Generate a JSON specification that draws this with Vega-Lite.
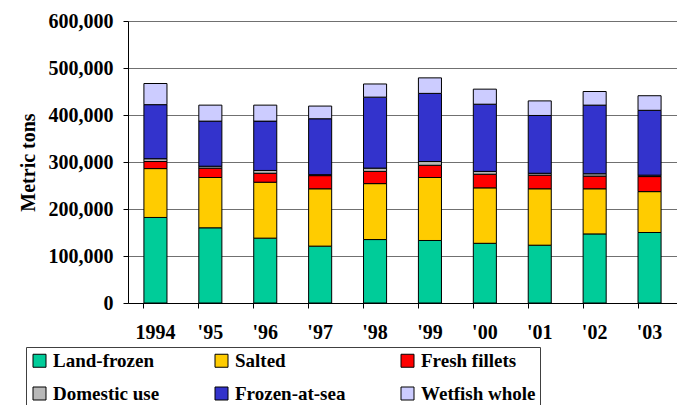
{
  "$schema": "https://vega.github.io/schema/vega-lite/v6.json",
  "width": 549,
  "height": 282,
  "autosize": {"type": "none"},
  "padding": {"left": 128, "top": 21, "right": 0, "bottom": 102},
  "background": "white",
  "data": {
    "values": [
      {"year": "1994", "cat": "Land-frozen", "k": 1, "v": 182000},
      {"year": "1994", "cat": "Salted", "k": 2, "v": 104000},
      {"year": "1994", "cat": "Fresh fillets", "k": 3, "v": 15000},
      {"year": "1994", "cat": "Domestic use", "k": 4, "v": 6000},
      {"year": "1994", "cat": "Frozen-at-sea", "k": 5, "v": 115000},
      {"year": "1994", "cat": "Wetfish whole", "k": 6, "v": 45000},
      {"year": "'95", "cat": "Land-frozen", "k": 1, "v": 160000},
      {"year": "'95", "cat": "Salted", "k": 2, "v": 107000},
      {"year": "'95", "cat": "Fresh fillets", "k": 3, "v": 20000},
      {"year": "'95", "cat": "Domestic use", "k": 4, "v": 4000},
      {"year": "'95", "cat": "Frozen-at-sea", "k": 5, "v": 96000},
      {"year": "'95", "cat": "Wetfish whole", "k": 6, "v": 34000},
      {"year": "'96", "cat": "Land-frozen", "k": 1, "v": 138000},
      {"year": "'96", "cat": "Salted", "k": 2, "v": 119000},
      {"year": "'96", "cat": "Fresh fillets", "k": 3, "v": 19000},
      {"year": "'96", "cat": "Domestic use", "k": 4, "v": 6000},
      {"year": "'96", "cat": "Frozen-at-sea", "k": 5, "v": 105000},
      {"year": "'96", "cat": "Wetfish whole", "k": 6, "v": 34000},
      {"year": "'97", "cat": "Land-frozen", "k": 1, "v": 121000},
      {"year": "'97", "cat": "Salted", "k": 2, "v": 122000},
      {"year": "'97", "cat": "Fresh fillets", "k": 3, "v": 28000},
      {"year": "'97", "cat": "Domestic use", "k": 4, "v": 2000},
      {"year": "'97", "cat": "Frozen-at-sea", "k": 5, "v": 119000},
      {"year": "'97", "cat": "Wetfish whole", "k": 6, "v": 27000},
      {"year": "'98", "cat": "Land-frozen", "k": 1, "v": 135000},
      {"year": "'98", "cat": "Salted", "k": 2, "v": 119000},
      {"year": "'98", "cat": "Fresh fillets", "k": 3, "v": 26000},
      {"year": "'98", "cat": "Domestic use", "k": 4, "v": 7000},
      {"year": "'98", "cat": "Frozen-at-sea", "k": 5, "v": 151000},
      {"year": "'98", "cat": "Wetfish whole", "k": 6, "v": 28000},
      {"year": "'99", "cat": "Land-frozen", "k": 1, "v": 133000},
      {"year": "'99", "cat": "Salted", "k": 2, "v": 134000},
      {"year": "'99", "cat": "Fresh fillets", "k": 3, "v": 26000},
      {"year": "'99", "cat": "Domestic use", "k": 4, "v": 8000},
      {"year": "'99", "cat": "Frozen-at-sea", "k": 5, "v": 145000},
      {"year": "'99", "cat": "Wetfish whole", "k": 6, "v": 33000},
      {"year": "'00", "cat": "Land-frozen", "k": 1, "v": 127000},
      {"year": "'00", "cat": "Salted", "k": 2, "v": 118000},
      {"year": "'00", "cat": "Fresh fillets", "k": 3, "v": 29000},
      {"year": "'00", "cat": "Domestic use", "k": 4, "v": 6000},
      {"year": "'00", "cat": "Frozen-at-sea", "k": 5, "v": 143000},
      {"year": "'00", "cat": "Wetfish whole", "k": 6, "v": 32000},
      {"year": "'01", "cat": "Land-frozen", "k": 1, "v": 123000},
      {"year": "'01", "cat": "Salted", "k": 2, "v": 120000},
      {"year": "'01", "cat": "Fresh fillets", "k": 3, "v": 29000},
      {"year": "'01", "cat": "Domestic use", "k": 4, "v": 4000},
      {"year": "'01", "cat": "Frozen-at-sea", "k": 5, "v": 123000},
      {"year": "'01", "cat": "Wetfish whole", "k": 6, "v": 31000},
      {"year": "'02", "cat": "Land-frozen", "k": 1, "v": 147000},
      {"year": "'02", "cat": "Salted", "k": 2, "v": 96000},
      {"year": "'02", "cat": "Fresh fillets", "k": 3, "v": 27000},
      {"year": "'02", "cat": "Domestic use", "k": 4, "v": 5000},
      {"year": "'02", "cat": "Frozen-at-sea", "k": 5, "v": 146000},
      {"year": "'02", "cat": "Wetfish whole", "k": 6, "v": 29000},
      {"year": "'03", "cat": "Land-frozen", "k": 1, "v": 150000},
      {"year": "'03", "cat": "Salted", "k": 2, "v": 87000},
      {"year": "'03", "cat": "Fresh fillets", "k": 3, "v": 32000},
      {"year": "'03", "cat": "Domestic use", "k": 4, "v": 3000},
      {"year": "'03", "cat": "Frozen-at-sea", "k": 5, "v": 138000},
      {"year": "'03", "cat": "Wetfish whole", "k": 6, "v": 31000}
    ]
  },
  "mark": {"type": "bar", "stroke": "black", "strokeWidth": 1},
  "encoding": {
    "x": {
      "field": "year", "type": "nominal", "sort": null,
      "scale": {"paddingInner": 0.58, "paddingOuter": 0.29},
      "axis": {
        "title": null, "labelAngle": 0, "bandPosition": 0,
        "domainColor": "black", "tickColor": "black", "tickSize": 5,
        "labelFont": "Times New Roman", "labelFontSize": 20, "labelFontWeight": "bold",
        "labelColor": "black", "labelPadding": 14, "grid": false
      }
    },
    "y": {
      "field": "v", "type": "quantitative", "aggregate": "sum", "stack": "zero",
      "scale": {"domain": [0, 600000], "nice": false},
      "axis": {
        "title": "Metric tons", "values": [0, 100000, 200000, 300000, 400000, 500000, 600000],
        "format": ",d", "grid": true, "gridColor": "#707070", "gridWidth": 1,
        "domainColor": "black", "tickColor": "black", "tickSize": 5,
        "labelFont": "Times New Roman", "labelFontSize": 20, "labelFontWeight": "bold",
        "labelColor": "black", "labelPadding": 10,
        "titleFont": "Times New Roman", "titleFontSize": 20, "titleFontWeight": "bold",
        "titleColor": "black", "titlePadding": 10
      }
    },
    "color": {
      "field": "cat", "type": "nominal",
      "scale": {
        "domain": ["Land-frozen", "Salted", "Fresh fillets", "Domestic use", "Frozen-at-sea", "Wetfish whole"],
        "range": ["#00CC99", "#FFCC00", "#FF0000", "#B8B8B8", "#3333CC", "#CCCCFF"]
      },
      "legend": {
        "title": null, "orient": "none", "legendX": -102, "legendY": 326,
        "direction": "horizontal", "columns": 3, "gridAlign": "each",
        "symbolType": "square", "symbolSize": 169, "symbolStrokeColor": "black", "symbolStrokeWidth": 1,
        "labelFont": "Times New Roman", "labelFontSize": 19, "labelFontWeight": "bold", "labelColor": "black",
        "labelOffset": 4, "columnPadding": 52, "rowPadding": 13, "padding": 4,
        "strokeColor": "#404040", "fillColor": "white", "labelLimit": 300
      }
    },
    "order": {"field": "k", "type": "quantitative"}
  },
  "config": {"view": {"stroke": null}}
}
